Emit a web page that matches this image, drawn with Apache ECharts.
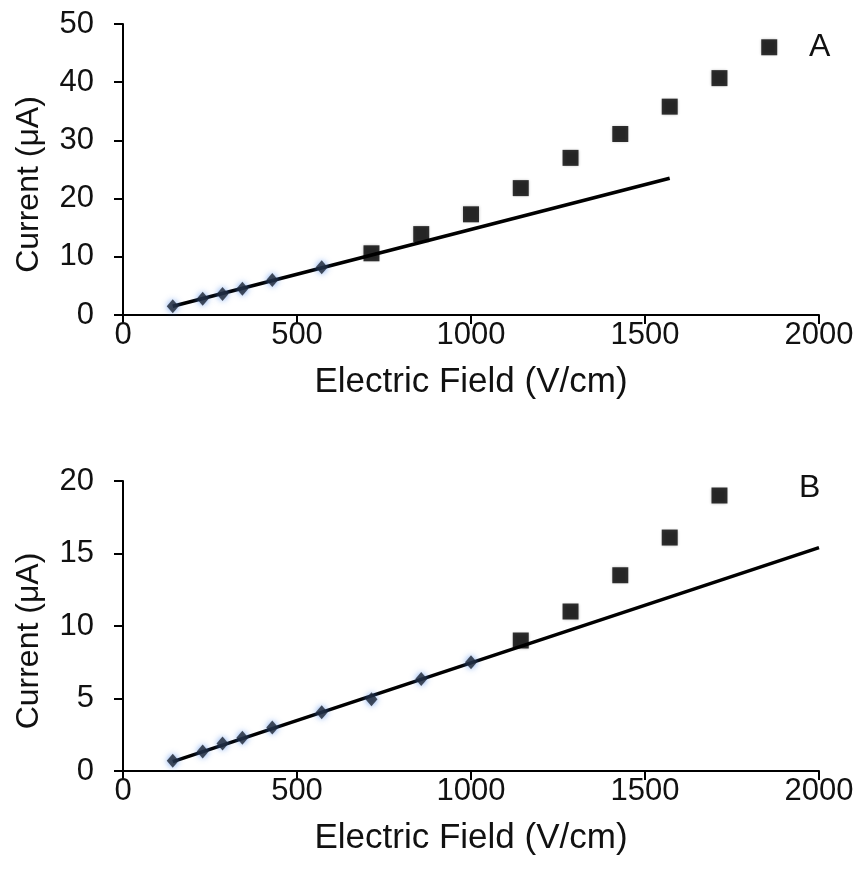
<!DOCTYPE html>
<html>
<head>
<meta charset="utf-8">
<script src="https://cdn.jsdelivr.net/npm/echarts@6/dist/echarts.min.js"></script>
<style>
  html, body { margin: 0; padding: 0; background: #fff; }
  #chart { width: 863px; height: 884px; }
</style>
</head>
<body>
<div id="chart"></div>
<script>
// Panel A: low-field points (linear regime) and high-field points
const fieldLowA = [143, 229, 286, 343, 429, 571];
const currentLowA = [1.5, 2.8, 3.6, 4.5, 6.0, 8.2];
const fieldHighA = [714, 857, 1000, 1143, 1286, 1429, 1571, 1714, 1857];
const currentHighA = [10.6, 13.9, 17.3, 21.8, 27.0, 31.1, 35.8, 40.7, 46.0];
// Linear fit through the low-field points of panel A (end points)
const fitFieldA = [143, 1571];
const fitCurrentA = [1.5, 23.5];

// Panel B
const fieldLowB = [143, 229, 286, 343, 429, 571, 714, 857, 1000];
const currentLowB = [0.7, 1.35, 1.9, 2.3, 3.0, 4.05, 4.95, 6.35, 7.5];
const fieldHighB = [1143, 1286, 1429, 1571, 1714];
const currentHighB = [9.0, 11.0, 13.5, 16.1, 19.0];
const fitFieldB = [143, 2000];
const fitCurrentB = [0.65, 15.4];

const xTitle = 'Electric Field (V/cm)';
const yTitle = 'Current (μA)';
const panelLabels = ['A', 'B'];

const zip = (xs, ys) => xs.map((x, i) => [x, ys[i]]);

const FONT = 'Liberation Sans, Arial, sans-serif';
const TICK_FS = 31;
const NAME_FS = 35;

function xAxisFor(gridIndex) {
  return {
    type: 'value', gridIndex, min: 0, max: 2000, interval: 500,
    name: xTitle, nameLocation: 'middle', nameGap: 50,
    nameTextStyle: { fontFamily: FONT, fontSize: NAME_FS, color: '#111' },
    axisLine: { lineStyle: { color: '#000', width: 2 } },
    axisTick: { inside: false, length: 9, lineStyle: { color: '#000', width: 2 } },
    axisLabel: { margin: 5, fontFamily: FONT, fontSize: TICK_FS, color: '#111',
                 formatter: v => String(v) },
    splitLine: { show: false }
  };
}
function yAxisFor(gridIndex, max, interval) {
  return {
    type: 'value', gridIndex, min: 0, max, interval,
    name: yTitle, nameLocation: 'middle', nameGap: 78,
    nameTextStyle: { fontFamily: FONT, fontSize: 32, color: '#111', padding: [0, 30, 0, 0] },
    axisLine: { show: true, lineStyle: { color: '#000', width: 2 } },
    axisTick: { show: true, inside: false, length: 9, lineStyle: { color: '#000', width: 2 } },
    axisLabel: { margin: 29, fontFamily: FONT, fontSize: TICK_FS, color: '#111',
                 formatter: v => String(v) },
    splitLine: { show: false }
  };
}

const diamondStyle = {
  color: '#1b2433',
  shadowColor: 'rgba(70,130,230,0.95)',
  shadowBlur: 6
};
const squareStyle = {
  color: '#000',
  shadowColor: 'rgba(0,0,0,0.35)',
  shadowBlur: 3
};
const fitStyle = { color: '#000', width: 3.5 };

const chart = echarts.init(document.getElementById('chart'), null, { renderer: 'canvas' });
chart.setOption({
  animation: false,
  backgroundColor: '#fff',
  title: [
    { text: panelLabels[0], left: 804, top: 26, textStyle: { fontFamily: FONT, fontSize: 32, fontWeight: 'normal', color: '#111' } },
    { text: panelLabels[1], left: 794, top: 467, textStyle: { fontFamily: FONT, fontSize: 32, fontWeight: 'normal', color: '#111' } }
  ],
  grid: [
    { left: 123, right: 44, top: 24, height: 291 },
    { left: 123, right: 44, top: 481, height: 290 }
  ],
  xAxis: [xAxisFor(0), xAxisFor(1)],
  yAxis: [yAxisFor(0, 50, 10), yAxisFor(1, 20, 5)],
  series: [
    { type: 'line', xAxisIndex: 0, yAxisIndex: 0, data: zip(fitFieldA, fitCurrentA),
      symbol: 'none', lineStyle: fitStyle, z: 2 },
    { type: 'scatter', xAxisIndex: 0, yAxisIndex: 0, data: zip(fieldLowA, currentLowA),
      symbol: 'diamond', symbolSize: [12, 14], itemStyle: diamondStyle, z: 3 },
    { type: 'scatter', xAxisIndex: 0, yAxisIndex: 0, data: zip(fieldHighA, currentHighA),
      symbol: 'rect', symbolSize: 16, itemStyle: squareStyle, z: 4 },

    { type: 'line', xAxisIndex: 1, yAxisIndex: 1, data: zip(fitFieldB, fitCurrentB),
      symbol: 'none', lineStyle: fitStyle, z: 2 },
    { type: 'scatter', xAxisIndex: 1, yAxisIndex: 1, data: zip(fieldLowB, currentLowB),
      symbol: 'diamond', symbolSize: [12, 14], itemStyle: diamondStyle, z: 3 },
    { type: 'scatter', xAxisIndex: 1, yAxisIndex: 1, data: zip(fieldHighB, currentHighB),
      symbol: 'rect', symbolSize: 16, itemStyle: squareStyle, z: 4 }
  ]
});
</script>
</body>
</html>
